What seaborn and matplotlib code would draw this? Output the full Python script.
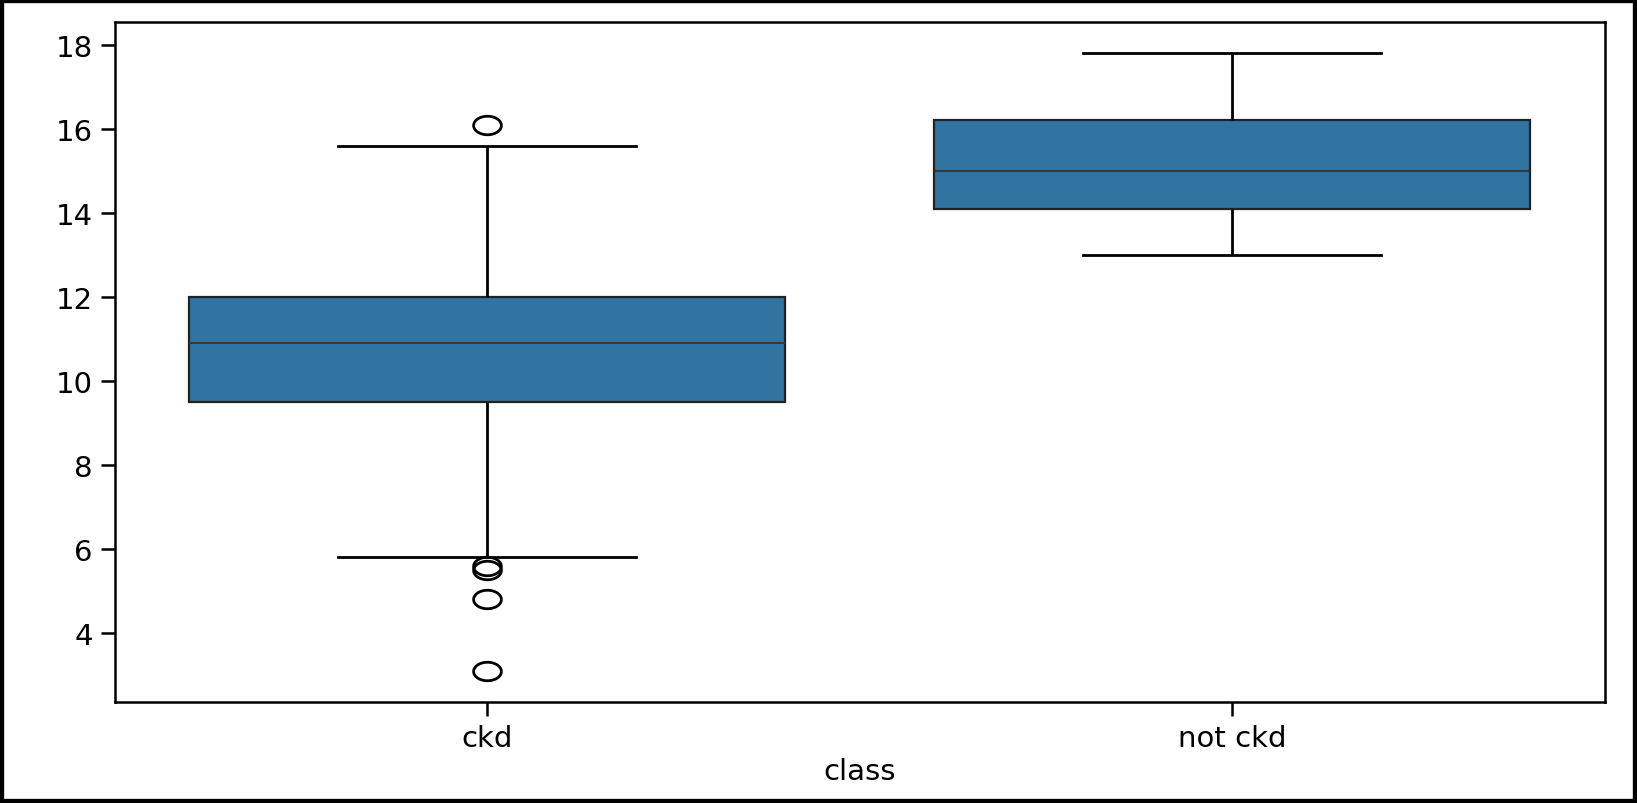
import numpy as np
import pandas as pd
import matplotlib
matplotlib.use("Agg")
import matplotlib.pyplot as plt
import seaborn as sns
from matplotlib.patches import Rectangle
from matplotlib.path import Path

# ── Data (hemoglobin readings per class) ──
ckd_hemo = [3.1, 4.8, 5.5, 5.6, 5.8, 8.1, 9.5, 9.8, 10.0, 10.3, 10.5, 10.8, 10.9,
            11.1, 11.3, 11.5, 11.7, 11.9, 12.0, 12.6, 13.2, 14.0, 14.8, 15.6, 16.1]
notckd_hemo = [13.0, 13.6, 14.1, 14.6, 15.0, 15.6, 16.2, 16.9, 17.8]
classes = ["ckd", "not ckd"]

df = pd.DataFrame({
    "class": [classes[0]] * len(ckd_hemo) + [classes[1]] * len(notckd_hemo),
    "hemo": ckd_hemo + notckd_hemo,
})

# the reference image is stretched sideways, so fliers look like flat ellipses
t = np.linspace(0, 2 * np.pi, 60)
ellipse = Path(np.column_stack([1.5 * np.cos(t), np.sin(t)]))

fig = plt.figure(figsize=(16.37, 8.04), dpi=100)
ax = fig.add_axes([0.0702, 0.126, 0.9102, 0.845])

sns.boxplot(data=df, x="class", y="hemo", order=classes, ax=ax,
            linewidth=1.6, fliersize=20,
            boxprops={"edgecolor": "#222222"},
            whiskerprops={"color": "black", "linewidth": 2.0},
            capprops={"color": "black", "linewidth": 2.0},
            medianprops={"color": "#333333", "linewidth": 1.3},
            flierprops={"marker": ellipse, "markeredgecolor": "black",
                        "markeredgewidth": 2.0})

ax.set_ylabel("")
ax.set_xlabel("class", fontsize=21)
ax.tick_params(axis="both", labelsize=21, length=10, width=1.8, pad=6)
for s in ax.spines.values():
    s.set_linewidth(1.8)

# black frame around the whole image
fig.patches.append(Rectangle((0, 0), 1, 1, transform=fig.transFigure,
                             fill=False, lw=6, ec="black"))

fig.savefig("out.png", dpi=100)
plt.close()
